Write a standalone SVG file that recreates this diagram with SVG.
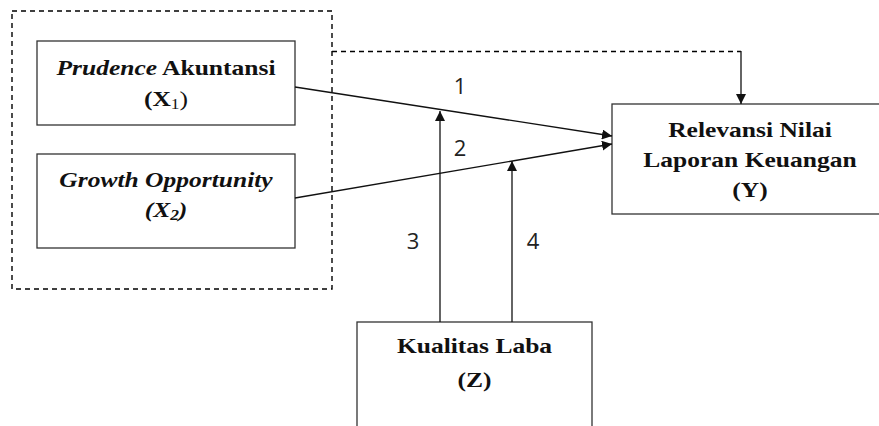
<svg xmlns="http://www.w3.org/2000/svg" width="879" height="426" viewBox="0 0 879 426">
<style>
.box{fill:#fff;stroke:#333;stroke-width:1.3}
.dash{fill:none;stroke:#000;stroke-width:1.4;stroke-dasharray:5,4}
.ln{fill:none;stroke:#111;stroke-width:1.3}
</style>
<defs>
<marker id="ah" viewBox="0 0 10 10" refX="10" refY="5" markerWidth="10" markerHeight="10" markerUnits="userSpaceOnUse" orient="auto">
<path d="M0,0 L10,5 L0,10 Z" fill="#111"/>
</marker>
</defs>
<rect width="879" height="426" fill="#fff"/>
<g id="group-x">
<rect class="dash" x="12" y="11" width="320" height="278"/>
</g>
<g font-family="Liberation Serif, Times New Roman, serif" font-weight="bold" font-size="22" fill="#111" text-anchor="middle">
<g id="x1">
<rect class="box" x="37" y="41" width="258" height="84"/>
<text transform="translate(166,0) scale(1.16,1)" x="0" y="75"><tspan font-style="italic">Prudence</tspan> Akuntansi</text>
<text transform="translate(166,0) scale(1.16,1)" x="0" y="106">(X<tspan font-size="15" font-weight="normal" dy="3">1</tspan><tspan font-weight="normal" dy="-3">)</tspan></text>
</g>
<g id="x2">
<rect class="box" x="37" y="154" width="258" height="94"/>
<text transform="translate(166,0) scale(1.16,1)" x="0" y="187" font-style="italic">Growth Opportunity</text>
<text transform="translate(166,0) scale(1.16,1)" x="0" y="217" font-style="italic">(X<tspan font-size="15" dy="3">2</tspan><tspan dy="-3">)</tspan></text>
</g>
<g id="y">
<rect class="box" x="612" y="104" width="280" height="110"/>
<text transform="translate(750,0) scale(1.16,1)" x="0" y="137">Relevansi Nilai</text>
<text transform="translate(750,0) scale(1.16,1)" x="0" y="167">Laporan Keuangan</text>
<text transform="translate(750,0) scale(1.16,1)" x="0" y="197">(Y)</text>
</g>
<g id="z">
<rect class="box" x="357" y="322" width="235" height="120"/>
<text transform="translate(474.5,0) scale(1.16,1)" x="0" y="353">Kualitas Laba</text>
<text transform="translate(474.5,0) scale(1.16,1)" x="0" y="387">(Z)</text>
</g>
</g>
<g id="connectors">
<path class="dash" d="M332,51.5 H741"/>
<path class="ln" d="M741,51 V104" marker-end="url(#ah)"/>
<line class="ln" x1="295" y1="87" x2="612" y2="136" marker-end="url(#ah)"/>
<line class="ln" x1="295" y1="198" x2="612" y2="144" marker-end="url(#ah)"/>
<line class="ln" x1="440" y1="322" x2="440" y2="111" marker-end="url(#ah)"/>
<line class="ln" x1="512" y1="322" x2="512" y2="161" marker-end="url(#ah)"/>
<g font-family="Open Sans, Liberation Sans, sans-serif" font-size="22" fill="#222" text-anchor="middle">
<text x="460" y="94">1</text>
<text x="460" y="156">2</text>
<text x="413" y="249">3</text>
<text x="533" y="249">4</text>
</g>
</g>
</svg>
